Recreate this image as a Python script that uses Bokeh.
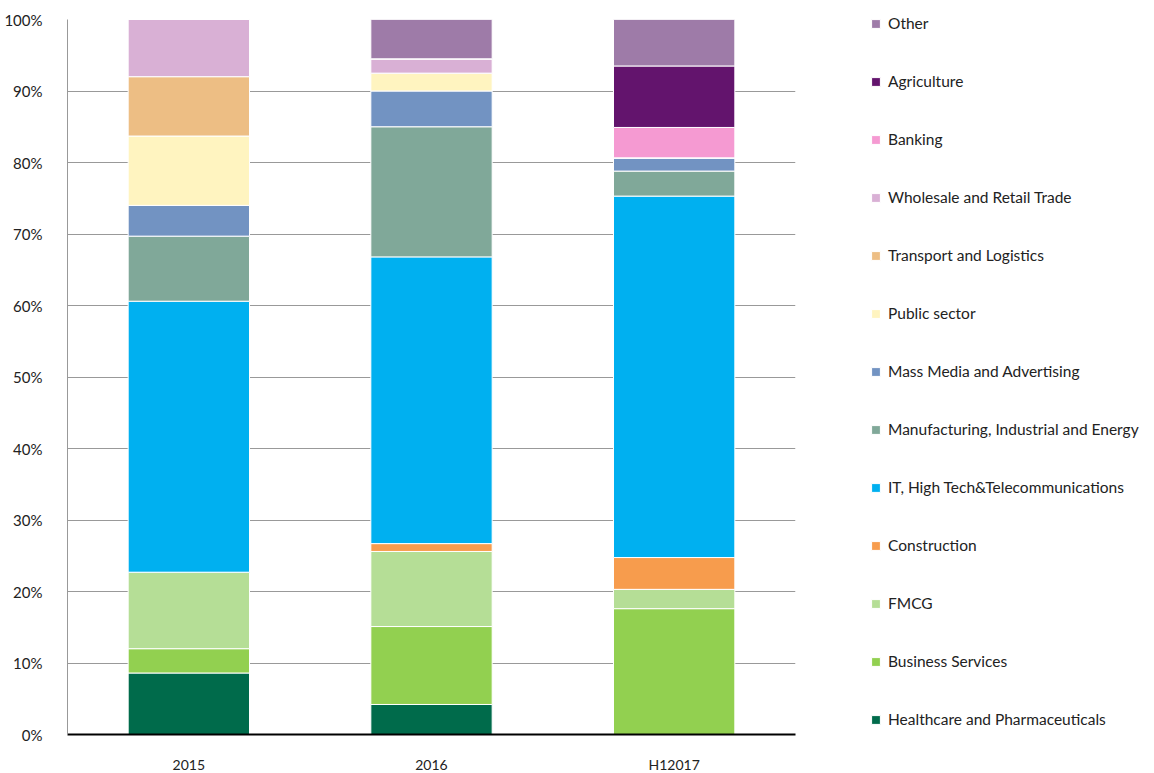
from bokeh.plotting import figure
from bokeh.models import FactorRange, Range1d, Legend, LegendItem, PrintfTickFormatter, FixedTicker, ColumnDataSource
from bokeh.embed import file_html
from bokeh.resources import INLINE

periods = ["2015", "2016", "H12017"]
sectors = ["Healthcare and Pharmaceuticals", "Business Services", "FMCG", "Construction",
           "IT, High Tech&Telecommunications", "Manufacturing, Industrial and Energy",
           "Mass Media and Advertising", "Public sector", "Transport and Logistics",
           "Wholesale and Retail Trade", "Banking", "Agriculture", "Other"]
healthcare = [8.6, 4.2, 0.0]
business = [3.4, 10.9, 17.6]
fmcg = [10.7, 10.5, 2.7]
construction = [0.0, 1.1, 4.45]
it_tech = [37.9, 40.1, 50.55]
manufacturing = [9.1, 18.2, 3.5]
mass_media = [4.3, 5.0, 1.85]
public_sector = [9.7, 2.5, 0.0]
transport = [8.3, 0.0, 0.0]
wholesale = [8.0, 2.0, 0.0]
banking = [0.0, 0.0, 4.25]
agriculture = [0.0, 0.0, 8.6]
other = [0.0, 5.5, 6.5]
colors = ["#006b4b", "#92d050", "#b5de96", "#f79c4d", "#00b0f0", "#80a899",
          "#7293c2", "#fff4c0", "#edbe84", "#d9b0d5", "#f59ad2", "#63146d", "#9e7ba8"]

series = [healthcare, business, fmcg, construction, it_tech, manufacturing, mass_media,
          public_sector, transport, wholesale, banking, agriculture, other]
data = {"period": periods}
for name, vals in zip(sectors, series):
    data[name] = vals
src = ColumnDataSource(data)

FONT = "Lato"

p = figure(frame_width=728, frame_height=715, x_range=FactorRange(*periods, range_padding=0),
           y_range=Range1d(0, 100), output_backend="svg", toolbar_location=None,
           min_border_left=67, min_border_top=19, min_border_bottom=39, min_border_right=0)
p.outline_line_color = None

rs = p.vbar_stack(sectors, x="period", width=0.5, source=src, color=colors,
                  line_color="white", line_width=1)

p.xgrid.grid_line_color = None
p.ygrid.grid_line_color = "#999999"
p.ygrid.grid_line_width = 1
p.yaxis.ticker = FixedTicker(ticks=list(range(0, 101, 10)))
p.yaxis.formatter = PrintfTickFormatter(format="%d%%")
p.yaxis.axis_line_color = "#999999"
p.yaxis.major_tick_line_color = None
p.yaxis.minor_tick_line_color = None
p.yaxis.major_label_standoff = 19
p.xaxis.axis_line_color = "black"
p.xaxis.axis_line_width = 2
p.xaxis.major_tick_line_color = None
p.xaxis.major_label_standoff = 15
p.yaxis.major_label_text_font_size = "15px"
p.xaxis.major_label_text_font_size = "14px"
for ax in (p.xaxis, p.yaxis):
    ax.major_label_text_font = FONT
    ax.major_label_text_color = "#222222"

items = [LegendItem(label=s, renderers=[r]) for s, r in zip(sectors, rs)][::-1]
leg = Legend(items=items, location=(75, 5), padding=0, margin=0,
             glyph_width=11, glyph_height=11, label_height=20, label_width=341, spacing=38,
             label_standoff=7, label_text_font=FONT, label_text_font_size="15.5px",
             label_text_color="#222222", border_line_color=None,
             background_fill_alpha=0)
p.add_layout(leg, "right")

open("out.html", "w").write(file_html(p, INLINE))
